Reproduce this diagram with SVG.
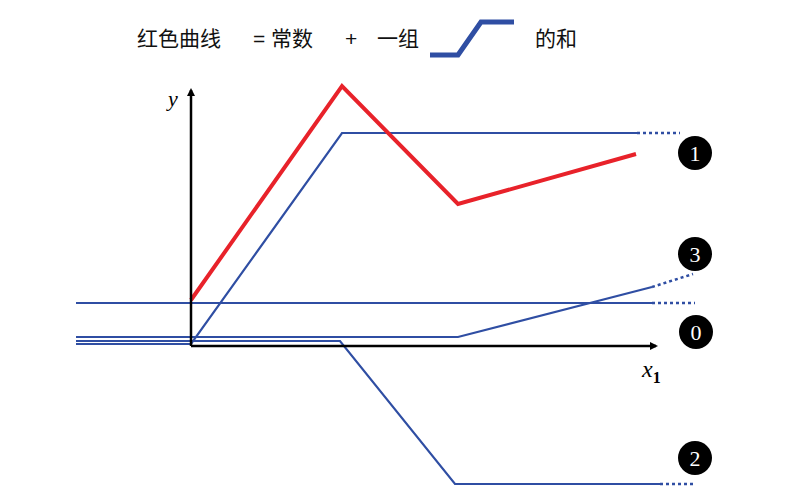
<svg xmlns="http://www.w3.org/2000/svg" width="788" height="495" viewBox="0 0 788 495">
<defs>
<style>
.t{font-family:"Liberation Sans","Noto Sans CJK SC",sans-serif;font-size:21px;fill:#111}
.b{fill:none;stroke:#2f4ea3;stroke-width:2.2}
.d{fill:none;stroke:#2f4ea3;stroke-width:2.5;stroke-dasharray:3 3}
.ax{fill:none;stroke:#000;stroke-width:2.5}
.c{fill:#000}
.n{font-family:"Liberation Serif",serif;font-size:22px;fill:#fff;text-anchor:middle}
</style>
<marker id="ar" markerWidth="8" markerHeight="8" refX="6" refY="4" orient="auto" markerUnits="userSpaceOnUse"><path d="M0,0 L8,4 L0,8 z" fill="#000"/></marker>
</defs>
<g id="title">
<text class="t" x="137" y="46">红色曲线</text>
<text class="t" x="253" y="46">= 常数</text>
<text class="t" x="345" y="46">+</text>
<text class="t" x="377" y="46">一组</text>
<path d="M430,55 H458 L481,22 H514" fill="none" stroke="#2f4ea3" stroke-width="5"/>
<text class="t" x="535" y="46">的和</text>
</g>
<g id="connectors">
<path class="b" d="M76,303 H652"/><path class="d" d="M652,303 H695"/>
<path class="b" d="M76,344 H191 L342,133 H637"/><path class="d" d="M637,133 H680"/>
<path class="b" d="M76,341 H340 L455,484 H660"/><path class="d" d="M660,484 H695"/>
<path class="b" d="M76,337 H458 L652,287"/><path class="d" d="M652,287 L693,274"/>
<path d="M191,300 L342,86 L458,204 L636,154" fill="none" stroke="#e8222a" stroke-width="4"/>
<path class="ax" d="M191,346 V90" marker-end="url(#ar)"/>
<path class="ax" d="M191,346 H656" marker-end="url(#ar)"/>
</g>
<g id="labels">
<text x="168" y="106" font-family="Liberation Serif,serif" font-style="italic" font-size="22">y</text>
<text x="642" y="377" font-family="Liberation Serif,serif" font-style="italic" font-size="24">x<tspan font-size="16" font-style="normal" font-weight="bold" dy="6">1</tspan></text>
</g>
<g id="n1"><circle class="c" cx="695" cy="153" r="17"/><text class="n" x="695" y="161">1</text></g>
<g id="n3"><circle class="c" cx="695" cy="254" r="17"/><text class="n" x="695" y="262">3</text></g>
<g id="n0"><circle class="c" cx="696" cy="332" r="17"/><text class="n" x="696" y="340">0</text></g>
<g id="n2"><circle class="c" cx="695" cy="458" r="17"/><text class="n" x="695" y="466">2</text></g>
</svg>
